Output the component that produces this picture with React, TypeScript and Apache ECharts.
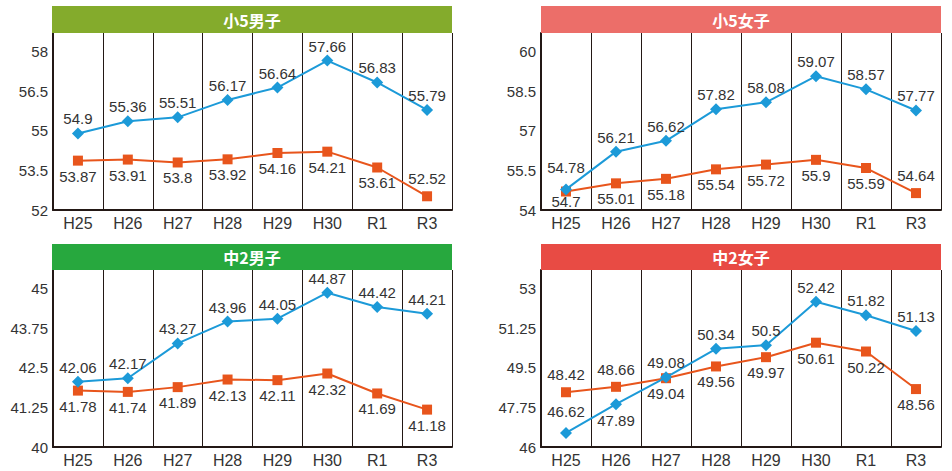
import React, { useEffect, useRef } from "react";
import * as echarts from "echarts";

// ---- data ----
const categories = ["H25", "H26", "H27", "H28", "H29", "H30", "R1", "R3"];
const panelTitles = ["小5男子", "小5女子", "中2男子", "中2女子"];

const e5BoysBlue = [54.9, 55.36, 55.51, 56.17, 56.64, 57.66, 56.83, 55.79];
const e5BoysOrange = [53.87, 53.91, 53.8, 53.92, 54.16, 54.21, 53.61, 52.52];
const e5GirlsBlue = [54.78, 56.21, 56.62, 57.82, 58.08, 59.07, 58.57, 57.77];
const e5GirlsOrange = [54.7, 55.01, 55.18, 55.54, 55.72, 55.9, 55.59, 54.64];
const j2BoysBlue = [42.06, 42.17, 43.27, 43.96, 44.05, 44.87, 44.42, 44.21];
const j2BoysOrange = [41.78, 41.74, 41.89, 42.13, 42.11, 42.32, 41.69, 41.18];
const j2GirlsBlue = [46.62, 47.89, 49.08, 50.34, 50.5, 52.42, 51.82, 51.13];
const j2GirlsOrange = [48.42, 48.66, 49.04, 49.56, 49.97, 50.61, 50.22, 48.56];

const yMins = [52, 54, 40, 46];
const yIntervals = [1.5, 1.5, 1.25, 1.75];

// ---- style / layout ----
const blueSeries = [e5BoysBlue, e5GirlsBlue, j2BoysBlue, j2GirlsBlue];
const orangeSeries = [e5BoysOrange, e5GirlsOrange, j2BoysOrange, j2GirlsOrange];
const barColors = ["#84ab2c", "#ec6e69", "#27a83e", "#e84b44"];
const grids = [
  { left: 53, top: 33, width: 399, height: 177 },
  { left: 541, top: 33, width: 400, height: 177 },
  { left: 53, top: 270, width: 399, height: 177 },
  { left: 541, top: 270, width: 400, height: 177 },
];
const bars = [
  { x: 52, y: 6, w: 400, h: 27 },
  { x: 541, y: 6, w: 400, h: 27 },
  { x: 52, y: 244, w: 400, h: 26 },
  { x: 541, y: 244, w: 400, h: 26 },
];
// label placement tweaks (index lists per panel)
const blueBelow: number[][] = [[], [], [], [1]];
const orangeAbove: number[][] = [[7], [7], [], [0, 1]];
const blueLifted: number[][] = [[], [0], [], [0]];
const orangeTight: number[][] = [[], [0], [], []];

const BLUE = "#1c9ad8";
const ORANGE = "#e8551c";
const DARK = "#231815";
const TEXT = "#333333";
const FONT = "'Liberation Sans', Arial, sans-serif";

export default function App() {
  const ref = useRef<HTMLDivElement>(null);

  useEffect(() => {
    if (!ref.current) return;
    const chart = echarts.init(ref.current, null, { renderer: "svg" });

    const xAxis: any[] = [];
    const yAxis: any[] = [];
    const series: any[] = [];
    const graphic: any[] = [];

    for (let p = 0; p < 4; p++) {
      xAxis.push({
        type: "category",
        gridIndex: p,
        data: categories,
        boundaryGap: true,
        axisLine: { show: true, lineStyle: { color: DARK, width: 2 } },
        axisTick: { show: false },
        splitLine: { show: true, lineStyle: { color: DARK, width: 1 } },
        axisLabel: { color: TEXT, fontSize: 16, fontFamily: FONT, margin: 5 },
      });
      yAxis.push({
        type: "value",
        gridIndex: p,
        min: yMins[p],
        max: yMins[p] + yIntervals[p] * 4.47,
        interval: yIntervals[p],
        axisLine: { show: true, lineStyle: { color: DARK, width: 2 } },
        axisTick: { show: false },
        splitLine: { show: false },
        axisLabel: {
          color: TEXT,
          fontSize: 15,
          fontFamily: FONT,
          margin: 5,
          showMaxLabel: false,
          padding: [0, 0, 6, 0],
        },
      });

      const blueData = blueSeries[p].map((v, i) => {
        const below = blueBelow[p].includes(i);
        const lifted = blueLifted[p].includes(i);
        return {
          value: v,
          label: {
            position: below ? "bottom" : "top",
            distance: below ? 3 : lifted ? 8 : 1,
          },
        };
      });
      const orangeData = orangeSeries[p].map((v, i) => {
        const above = orangeAbove[p].includes(i);
        const tight = orangeTight[p].includes(i);
        return {
          value: v,
          label: {
            position: above ? "top" : "bottom",
            distance: above ? 5 : tight ? -3 : 3,
          },
        };
      });

      series.push({
        type: "line",
        xAxisIndex: p,
        yAxisIndex: p,
        data: orangeData,
        symbol: "rect",
        symbolSize: 10,
        itemStyle: { color: ORANGE },
        lineStyle: { color: ORANGE, width: 2 },
        label: { show: true, color: TEXT, fontSize: 15, fontFamily: FONT },
        z: 2,
      });
      series.push({
        type: "line",
        xAxisIndex: p,
        yAxisIndex: p,
        data: blueData,
        symbol: "diamond",
        symbolSize: 12,
        itemStyle: { color: BLUE },
        lineStyle: { color: BLUE, width: 2 },
        label: { show: true, color: TEXT, fontSize: 15, fontFamily: FONT },
        z: 3,
      });

      const b = bars[p];
      graphic.push({
        type: "rect",
        shape: { x: b.x, y: b.y, width: b.w, height: b.h },
        style: { fill: barColors[p] },
        z: 10,
      });
      graphic.push({
        type: "text",
        x: b.x + b.w / 2,
        y: b.y + b.h / 2,
        style: {
          text: panelTitles[p],
          fill: "#ffffff",
          font: "bold 16px 'Noto Sans CJK JP', sans-serif",
          textAlign: "center",
          textVerticalAlign: "middle",
        },
        z: 11,
      });
    }

    chart.setOption({
      animation: false,
      backgroundColor: "#ffffff",
      grid: grids.map((g) => ({ ...g, containLabel: false })),
      xAxis,
      yAxis,
      series,
      graphic,
    });

    return () => chart.dispose();
  }, []);

  return (
    <div
      ref={ref}
      style={{ position: "fixed", left: 0, top: 0, width: 952, height: 471 }}
    />
  );
}
